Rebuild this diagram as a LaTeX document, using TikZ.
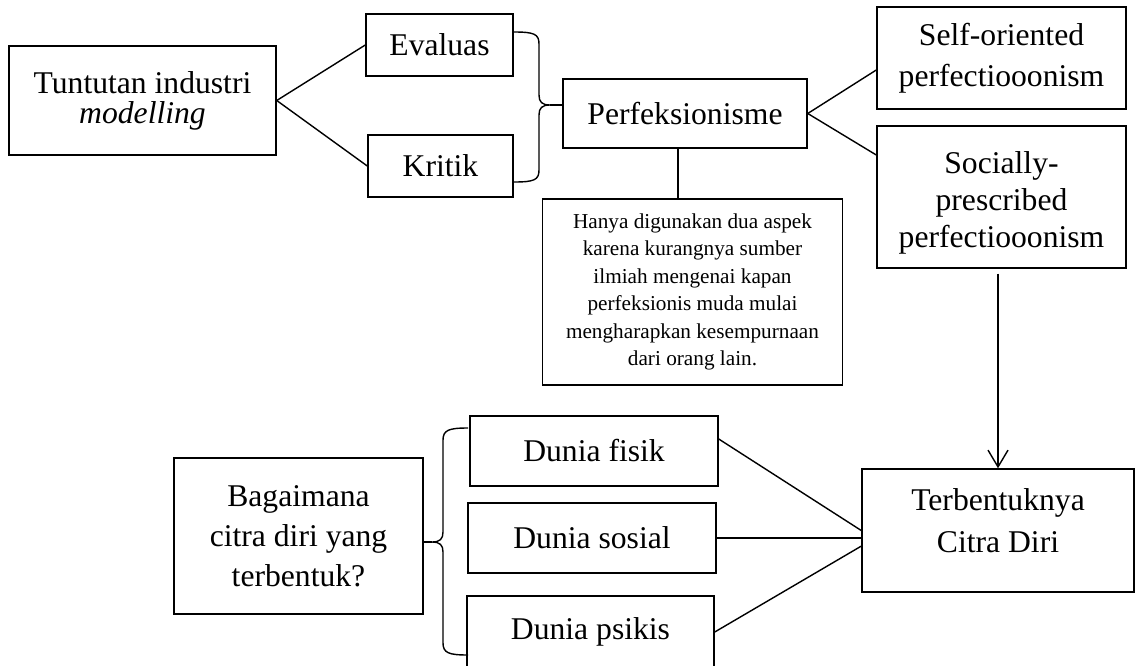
\documentclass[tikz,border=0pt]{standalone}
\usepackage{fontspec}
\setmainfont{Liberation Serif}
\usetikzlibrary{arrows.meta}
\tikzset{>={Straight Barb[length=0.42cm,width=0.5cm]}}
\tikzset{
  box/.style={draw, line width=1pt, align=center, inner sep=0pt,
    font=\fontsize{22.5}{29.9}\selectfont},
  link/.style={line width=1pt},
}

\begin{document}
\begin{tikzpicture}[x=0.025cm, y=-0.025cm]
  \useasboundingbox (0,0) rectangle (1135,665);

  % atas
  \node[box, minimum width=6.675cm, minimum height=2.725cm,
    font=\fontsize{22.5}{21.3}\selectfont] (tuntutan) at (142.5,100.5)
    {Tuntutan industri\\\textit{modelling}};
  \node[box, minimum width=3.675cm, minimum height=1.55cm] (evaluas) at (439.5,45) {Evaluas};
  \node[box, minimum width=3.625cm, minimum height=1.55cm] (kritik) at (440.5,166) {Kritik};
  \node[box, minimum width=6.1cm, minimum height=1.725cm] (perf) at (685,113.5) {Perfeksionisme};
  \node[box, minimum width=7.5cm, minimum height=4.65cm,
    font=\fontsize{15.1}{19.5}\selectfont] (catatan) at (692.5,292)
    {Hanya digunakan dua aspek\\karena kurangnya sumber\\ilmiah mengenai kapan\\
     perfeksionis muda mulai\\mengharapkan kesempurnaan\\dari orang lain.};
  \node[box, minimum width=6.225cm, minimum height=2.55cm,
    font=\fontsize{22.5}{29.2}\selectfont] (self) at (1001.5,58)
    {Self-oriented\\perfectiooonism};
  \node[box, minimum width=6.225cm, minimum height=3.55cm, text height=77pt,
    font=\fontsize{22.5}{26.3}\selectfont] (social) at (1001.5,197)
    {Socially-\\prescribed\\perfectiooonism};

  % bawah
  \node[box, minimum width=6.8cm, minimum height=3.075cm, text depth=14pt]
    (terbentuk) at (998,530.5) {Terbentuknya\\Citra Diri};
  \node[box, minimum width=6.225cm, minimum height=3.9cm,
    font=\fontsize{22.5}{28.5}\selectfont] (tanya) at (298.5,536)
    {Bagaimana\\citra diri yang\\terbentuk?};
  \node[box, minimum width=6.2cm, minimum height=1.75cm] (fisik) at (594,451) {Dunia fisik};
  \node[box, minimum width=6.2cm, minimum height=1.75cm] (sosial) at (592,538) {Dunia sosial};
  \node[box, minimum width=6.175cm, minimum height=1.8cm] (psikis) at (590.5,632) {Dunia psikis};

  \draw[link] (tuntutan.east) -- (evaluas.west);
  \draw[link] (tuntutan.east) -- (kritik.west);

  % kurung kurawal
  \draw[link] (514,32) .. controls (534,32) and (539,34) .. (539,44) -- (539,95)
    .. controls (539,102) and (542,105) .. (550,105)
    .. controls (542,105) and (539,108) .. (539,115) -- (539,170)
    .. controls (539,180) and (534,182) .. (514,182);
  \coordinate (kurungatas) at (550,105);
  \draw[link] (kurungatas) -- (kurungatas -| perf.west);

  \draw[link] (perf.east) -- ([yshift=-0.3cm]self.west);
  \draw[link] (perf.east) -- ([yshift=1.05cm]social.west);
  \coordinate (perfbawah) at ([xshift=-0.175cm]perf.south);
  \draw[link] (perfbawah) -- (perfbawah |- catatan.north);

  \draw[link, ->, shorten <=0.125cm] (terbentuk.north |- social.south) -- (terbentuk.north);

  \draw[link] (468,428) .. controls (449,428) and (443,430) .. (443,440) -- (443,532)
    .. controls (443,539) and (440,542) .. (432,542)
    .. controls (440,542) and (443,545) .. (443,552) -- (443,643)
    .. controls (443,653) and (449,655) .. (468,655);
  \coordinate (kurungbawah) at (432,542);
  \draw[link] (kurungbawah) -- (kurungbawah -| tanya.east);

  \draw[link] ([yshift=0.3cm]fisik.east) -- (terbentuk.west);
  \draw[link] (sosial.east) -- (sosial.east -| terbentuk.west);
  \draw[link] (psikis.east) -- ([yshift=-0.39cm]terbentuk.west);
\end{tikzpicture}
\end{document}
